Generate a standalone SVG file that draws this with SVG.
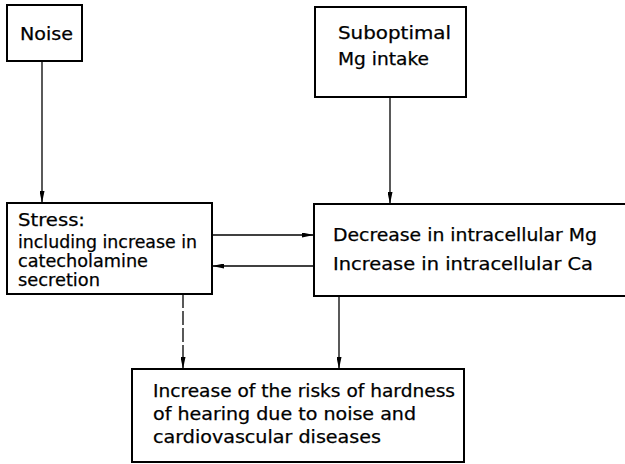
<svg xmlns="http://www.w3.org/2000/svg" width="625" height="464" viewBox="0 0 625 464">
  <style>
    .box { fill: #ffffff; stroke: #000000; stroke-width: 2; }
    .lbl { font-family: "DejaVu Sans", "Liberation Sans", sans-serif; font-size: 17px; fill: #000000; stroke: #000000; stroke-width: 0.25; }
    .wire { fill: none; stroke: #000000; stroke-width: 1.3; }
  </style>
  <defs>
    <marker id="head" viewBox="0 0 12 5" refX="12" refY="2.5" markerWidth="12" markerHeight="5" markerUnits="userSpaceOnUse" orient="auto">
      <path d="M0,0 L12,2.5 L0,5 Z" fill="#000000"/>
    </marker>
  </defs>
  <rect width="625" height="464" fill="#ffffff"/>

  <!-- connectors -->
  <g id="connectors">
    <line class="wire" x1="42" y1="61" x2="42" y2="203" marker-end="url(#head)"/>
    <line class="wire" x1="390" y1="97" x2="390" y2="204" marker-end="url(#head)"/>
    <line class="wire" x1="212" y1="235" x2="314" y2="235" marker-end="url(#head)"/>
    <line class="wire" x1="314" y1="266" x2="212" y2="266" marker-end="url(#head)"/>
    <line class="wire" x1="183" y1="294" x2="183" y2="369" stroke-dasharray="14 3" marker-end="url(#head)"/>
    <line class="wire" x1="339" y1="296" x2="339" y2="369" marker-end="url(#head)"/>
  </g>

  <!-- nodes -->
  <g id="noise">
    <rect class="box" x="7" y="5" width="75" height="56"/>
    <text class="lbl" x="20" y="40" textLength="53" lengthAdjust="spacingAndGlyphs">Noise</text>
  </g>

  <g id="mg-intake">
    <rect class="box" x="315" y="7" width="151" height="90"/>
    <text class="lbl" x="338" y="39" textLength="113" lengthAdjust="spacingAndGlyphs">Suboptimal</text>
    <text class="lbl" x="338" y="65" textLength="91" lengthAdjust="spacingAndGlyphs">Mg  intake</text>
  </g>

  <g id="stress">
    <rect class="box" x="7" y="203" width="205" height="91"/>
    <text class="lbl" x="18" y="226" textLength="67" lengthAdjust="spacingAndGlyphs">Stress:</text>
    <text class="lbl" x="18" y="248" textLength="179" lengthAdjust="spacingAndGlyphs">including increase in</text>
    <text class="lbl" x="18" y="267" textLength="130" lengthAdjust="spacingAndGlyphs">catecholamine</text>
    <text class="lbl" x="18" y="286" textLength="82" lengthAdjust="spacingAndGlyphs">secretion</text>
  </g>

  <g id="intracellular">
    <rect class="box" x="314" y="204" width="320" height="92"/>
    <text class="lbl" x="333" y="241" textLength="264" lengthAdjust="spacingAndGlyphs">Decrease in intracellular Mg</text>
    <text class="lbl" x="333" y="270" textLength="260" lengthAdjust="spacingAndGlyphs">Increase in intracellular Ca</text>
  </g>

  <g id="risks">
    <rect class="box" x="132" y="369" width="332" height="93"/>
    <text class="lbl" x="153" y="397" textLength="302" lengthAdjust="spacingAndGlyphs">Increase of the risks of hardness</text>
    <text class="lbl" x="153" y="420" textLength="263" lengthAdjust="spacingAndGlyphs">of hearing  due to noise and</text>
    <text class="lbl" x="153" y="443" textLength="228" lengthAdjust="spacingAndGlyphs">cardiovascular  diseases</text>
  </g>
</svg>
